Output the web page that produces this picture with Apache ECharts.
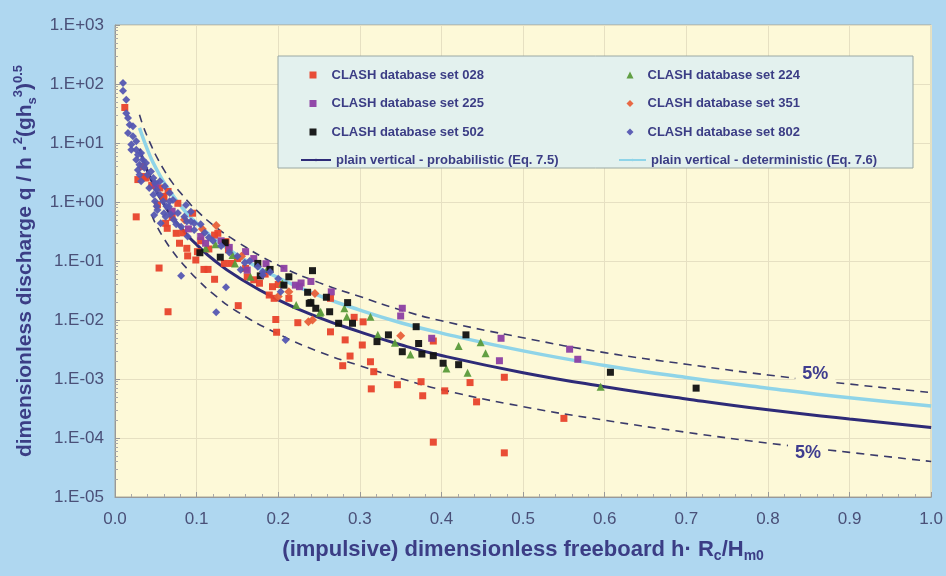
<!DOCTYPE html>
<html><head><meta charset="utf-8">
<script src="https://cdn.jsdelivr.net/npm/echarts@6/dist/echarts.min.js"></script>
<style>html,body{margin:0;padding:0;background:#afd7f0}#c{width:946px;height:576px}</style>
</head><body><div id="c"></div><script>
// ---- tick labels ----
const xTickLabels = ['0.0','0.1','0.2','0.3','0.4','0.5','0.6','0.7','0.8','0.9','1.0'];
const yTickLabels = ['1.E-05','1.E-04','1.E-03','1.E-02','1.E-01','1.E+00','1.E+01','1.E+02','1.E+03'];

// ---- series names ----
const names = ['CLASH database set 028','CLASH database set 224','CLASH database set 225',
  'CLASH database set 351','CLASH database set 502','CLASH database set 802',
  'plain vertical - probabilistic (Eq. 7.5)','plain vertical - deterministic (Eq. 7.6)'];

// ---- scatter data [x, y] ----
const set028 = [[0.012,40],[0.026,0.56],[0.054,0.076],[0.065,0.0138],[0.151,0.0175],[0.197,0.0102],
  [0.198,0.0062],[0.224,0.009],[0.264,0.0063],[0.282,0.0046],[0.288,0.00245],[0.279,0.00168],
  [0.303,0.00377],[0.313,0.00196],[0.317,0.00133],[0.314,0.00068],[0.346,0.0008],[0.293,0.0111],
  [0.304,0.0093],[0.264,0.0233],[0.375,0.0009],[0.377,0.00052],[0.39,0.0044],[0.404,0.00063],
  [0.39,0.000085],[0.435,0.00087],[0.443,0.00041],[0.477,0.00107],[0.477,0.000056],[0.55,0.000215],
  [0.062,0.436],[0.075,0.295],[0.079,0.2],[0.088,0.164],[0.089,0.122],[0.101,0.144],[0.109,0.072],
  [0.114,0.072],[0.122,0.049],[0.099,0.104],[0.095,0.645],[0.122,0.275],[0.126,0.295],[0.136,0.213],
  [0.139,0.155],[0.134,0.091],[0.142,0.091],[0.162,0.054],[0.17,0.048],[0.177,0.042],[0.189,0.0265],
  [0.193,0.0367],[0.213,0.0233],[0.195,0.0233],[0.034,4.0],[0.036,2.7],[0.06,1.16],[0.077,0.95],
  [0.064,0.358],[0.028,2.4],[0.038,2.55],[0.055,1.73],[0.059,1.25],[0.065,1.51],[0.045,1.9],[0.052,0.9],
  [0.07,0.55],[0.083,0.3],[0.105,0.22],[0.115,0.16],[0.15,0.11],[0.16,0.075],[0.184,0.06],[0.2,0.04]];
const set224 = [[0.24,0.0204],[0.251,0.0133],[0.281,0.0158],[0.284,0.0114],[0.313,0.0114],[0.322,0.0056],
  [0.343,0.0041],[0.362,0.0026],[0.406,0.00151],[0.421,0.00363],[0.432,0.00128],[0.448,0.0042],
  [0.454,0.00272],[0.595,0.00074],[0.123,0.192],[0.111,0.164],[0.147,0.091],[0.144,0.126],
  [0.166,0.054],[0.187,0.075],[0.205,0.042],[0.222,0.018],[0.252,0.0138]];
const set225 = [[0.228,0.0424],[0.352,0.0158],[0.35,0.0117],[0.388,0.0049],[0.473,0.0049],[0.471,0.00204],
  [0.557,0.0032],[0.567,0.00216],[0.16,0.144],[0.162,0.07],[0.207,0.075],[0.226,0.0367],[0.111,0.2],
  [0.221,0.039],[0.105,0.26],[0.13,0.22],[0.17,0.11],[0.185,0.09],[0.24,0.045],[0.265,0.03],
  [0.05,2.0],[0.07,0.7],[0.09,0.35],[0.14,0.17]];
const set351 = [[0.124,0.4],[0.107,0.35],[0.2,0.025],[0.237,0.0093],[0.35,0.0054],[0.245,0.028],
  [0.242,0.01],[0.155,0.12],[0.085,0.5],[0.213,0.03]];
const set502 = [[0.242,0.0686],[0.236,0.0295],[0.238,0.0192],[0.246,0.0158],[0.259,0.0243],[0.263,0.0138],
  [0.285,0.0197],[0.274,0.0088],[0.291,0.0088],[0.321,0.0043],[0.335,0.0056],[0.352,0.0029],
  [0.369,0.0077],[0.372,0.004],[0.376,0.00265],[0.39,0.00248],[0.402,0.00185],[0.421,0.00175],
  [0.43,0.0056],[0.607,0.0013],[0.712,0.0007],[0.135,0.204],[0.104,0.138],[0.129,0.116],
  [0.175,0.091],[0.178,0.056],[0.207,0.039],[0.19,0.072],[0.213,0.054],[0.24,0.0197]];
const set802 = [[0.0098,104],[0.0098,77],[0.0138,54],[0.0138,32],[0.0159,26.5],[0.018,20.4],[0.022,19.2],
  [0.0159,14.8],[0.022,13],[0.026,10.7],[0.02,9.4],[0.02,7.7],[0.026,7.7],[0.028,6.3],[0.032,6.8],
  [0.026,5.2],[0.034,5.2],[0.03,4.3],[0.038,4.6],[0.028,3.5],[0.036,3.8],[0.044,3.3],[0.03,2.9],
  [0.04,2.9],[0.047,2.55],[0.032,2.24],[0.049,2.1],[0.055,2.24],[0.042,1.73],[0.051,1.61],[0.061,1.85],
  [0.047,1.33],[0.055,1.33],[0.067,1.42],[0.049,1.03],[0.059,1.03],[0.067,1.03],[0.051,0.845],
  [0.063,0.845],[0.052,0.73],[0.066,0.83],[0.071,1.08],[0.062,0.56],[0.077,0.65],[0.056,0.436],
  [0.081,0.38],[0.093,0.465],[0.097,0.335],[0.089,0.26],[0.048,0.6],[0.06,0.646],[0.087,0.89],
  [0.093,0.686],[0.088,0.465],[0.097,0.436],[0.159,0.093],[0.154,0.071],[0.181,0.066],[0.081,0.056],
  [0.136,0.0359],[0.124,0.0135],[0.203,0.03],[0.181,0.058],[0.209,0.0046],[0.11,0.3],[0.12,0.22],
  [0.13,0.18],[0.14,0.14],[0.15,0.12],[0.165,0.1],[0.175,0.08],[0.19,0.065],[0.2,0.05],[0.105,0.42],
  [0.115,0.25],[0.072,0.5],[0.075,0.42],[0.068,0.62],[0.085,0.56]];

// ---- curves ----
const curveX   = [0.03,0.035,0.04,0.045,0.05,0.06,0.07,0.08,0.09,0.1,0.12,0.15,0.2,0.25,0.3,0.35,0.4,0.5,0.6,0.7,0.8,0.9,1.0];
const probY    = [8.0,4.9,3.3,2.3,1.6,0.92,0.56,0.38,0.26,0.19,0.107,0.054,0.022,0.011,0.0063,0.0038,0.0025,0.00128,0.00074,0.00046,0.0003,0.00021,0.00015];
const detY     = [18,11.5,7.6,5.2,3.8,2.15,1.35,0.88,0.6,0.44,0.25,0.125,0.052,0.026,0.0147,0.009,0.006,0.003,0.0017,0.00106,0.0007,0.00048,0.00035];
const upperY   = [30,18.5,12.5,8.7,6.2,3.5,2.15,1.45,1.0,0.72,0.41,0.21,0.085,0.043,0.025,0.0148,0.0097,0.005,0.0028,0.00178,0.00117,0.00082,0.00059];
const lowerX   = [0.045,0.05,0.06,0.07,0.08,0.09,0.1,0.12,0.15,0.2,0.25,0.3,0.35,0.4,0.5,0.6,0.7,0.8,0.9,1.0];
const lowerY   = [0.6,0.42,0.24,0.15,0.1,0.07,0.05,0.028,0.0138,0.0058,0.0029,0.00168,0.00102,0.00066,0.00034,0.0002,0.000125,0.000082,0.000057,0.00004];
const labelUpper = [0.858,0.00122];
const labelLower = [0.849,0.0000557];

const zip = (xs, ys) => xs.map((x,i)=>[x, ys[i]]);
const txt = '#3b3d85';
const FF = 'Liberation Sans, Arial, sans-serif';

const chart = echarts.init(document.getElementById('c'));
const scat = (name, data, symbol, size, color) => ({
  name, type:'scatter', data, symbol, symbolSize:size, z:5,
  itemStyle:{color, opacity:0.95}
});
const dashed = (data, lbl) => ({
  type:'line', data, symbol:'none', smooth:true, z:3, silent:true,
  lineStyle:{color:'#3a3a6a', width:1.6, type:[8,6]},
  markPoint:{ symbol:'rect', symbolSize:1, itemStyle:{color:'rgba(0,0,0,0)'},
    label:{show:true, position:'inside', formatter:'5%', color:'#3f3d8f', fontSize:18, fontWeight:'bold',
      fontFamily:FF, backgroundColor:'#fdf9d8', padding:[2,7]},
    data:[{coord:lbl}] }
});

const supStyle = {fontSize:13, fontWeight:'bold', color:txt, verticalAlign:'top', lineHeight:27, fontFamily:FF};
const subStyle = {fontSize:13, fontWeight:'bold', color:txt, verticalAlign:'bottom', lineHeight:27, fontFamily:FF};
const baseStyle = {fontSize:21, fontWeight:'bold', color:txt, lineHeight:27, fontFamily:FF};
const xBase = {fontSize:22, fontWeight:'bold', color:txt, lineHeight:27, fontFamily:FF};
const xSub = {fontSize:14, fontWeight:'bold', color:txt, verticalAlign:'bottom', lineHeight:27, fontFamily:FF};

chart.setOption({
  backgroundColor:'#afd7f0',
  animation:false,
  grid:{left:115, right:14, top:25, bottom:79, show:true, backgroundColor:'#fdf9d8', borderColor:'#a8a898', borderWidth:1},
  xAxis:{type:'value', min:0, max:1, interval:0.1,
    axisLine:{lineStyle:{color:'#999'}},
    axisTick:{inside:true, length:5, lineStyle:{color:'#999'}},
    minorTick:{show:true, splitNumber:5, length:3, lineStyle:{color:'#aaa'}},
    splitLine:{show:true, lineStyle:{color:'#e6e0c2', width:1}},
    axisLabel:{margin:14, fontSize:17, color:'#4a5078', fontFamily:FF,
      formatter:(v)=>xTickLabels[Math.round(v*10)]},
    name:'{b|(impulsive) dimensionless freeboard h· R}{s|c}{b|/H}{s|m0}',
    nameLocation:'middle', nameGap:39,
    nameTextStyle:{rich:{b:xBase, s:xSub}}
  },
  yAxis:{type:'log', logBase:10, min:1e-5, max:1e3,
    axisLine:{show:true, lineStyle:{color:'#999'}},
    axisTick:{show:true, inside:true, length:5, lineStyle:{color:'#999'}},
    minorTick:{show:true, splitNumber:9, length:3, lineStyle:{color:'#aaa'}},
    splitLine:{show:true, lineStyle:{color:'#e6e0c2', width:1}},
    axisLabel:{margin:11, fontSize:17, color:'#4a5078', fontFamily:FF,
      formatter:(v)=>yTickLabels[Math.round(Math.log10(v))+5]},
    name:'{b|dimensionless discharge q / h ·}{p|2}{b|(gh}{s|s}{p|3}{b|)}{p|0.5}',
    nameLocation:'middle', nameGap:74, nameRotate:90,
    nameTextStyle:{rich:{b:baseStyle, s:subStyle, p:supStyle}}
  },
  graphic:[{type:'rect', shape:{x:278, y:56, width:635, height:112}, z:10,
    style:{fill:'#e3f1ee', stroke:'#9aa8a4', lineWidth:1}}],
  legend:[
    {orient:'vertical', left:304.5, top:62, itemWidth:7, itemHeight:7, itemGap:12.5, z:20,
      data:[names[0],names[2],names[4]],
      textStyle:{color:txt, fontSize:13, fontWeight:'bold', lineHeight:16, padding:[0,0,0,10], fontFamily:FF}},
    {orient:'vertical', left:621.5, top:62, itemWidth:7, itemHeight:7, itemGap:12.5, z:20,
      data:[names[1],names[3],names[5]],
      textStyle:{color:txt, fontSize:13, fontWeight:'bold', lineHeight:16, padding:[0,0,0,9], fontFamily:FF}},
    {orient:'vertical', left:295, top:147, itemWidth:30, itemHeight:3, z:20,
      data:[names[6]],
      textStyle:{color:txt, fontSize:13, fontWeight:'bold', lineHeight:16, fontFamily:FF}},
    {orient:'vertical', left:613, top:147, itemWidth:27, itemHeight:3, z:20,
      data:[names[7]],
      textStyle:{color:txt, fontSize:13, fontWeight:'bold', lineHeight:16, fontFamily:FF}}
  ],
  series:[
    {name:names[7], type:'line', data:zip(curveX, detY), symbol:'none', smooth:true, z:3,
      lineStyle:{color:'#8fd4e8', width:3.5}, itemStyle:{color:'#8fd4e8'}},
    {name:names[6], type:'line', data:zip(curveX, probY), symbol:'none', smooth:true, z:3,
      lineStyle:{color:'#2e2b78', width:3}, itemStyle:{color:'#2e2b78'}},
    dashed(zip(curveX, upperY), labelUpper),
    dashed(zip(lowerX, lowerY), labelLower),
    scat(names[0], set028, 'rect', 7, '#e8432c'),
    scat(names[1], set224, 'triangle', 8, '#5a9a3a'),
    scat(names[2], set225, 'rect', 7, '#8c3fa3'),
    scat(names[3], set351, 'diamond', 9, '#e8603a'),
    scat(names[4], set502, 'rect', 7, '#111111'),
    scat(names[5], set802, 'diamond', 8, '#5557b2')
  ]
});
</script></body></html>
